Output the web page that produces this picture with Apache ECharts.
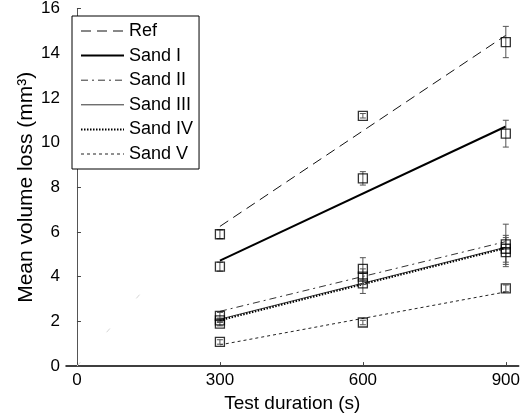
<!DOCTYPE html>
<html lang="en">
<head>
<meta charset="utf-8">
<title>Mean volume loss</title>
<script src="https://cdn.jsdelivr.net/npm/echarts@6/dist/echarts.min.js"></script>
<style>
  html, body { margin: 0; padding: 0; background: #fff; }
  #chart { width: 523px; height: 418px; }
</style>
</head>
<body>
<div id="chart"></div>
<script>
// test durations (s) and tick labels
var durations = [300, 600, 900];
var xTicks = [0, 300, 600, 900];
var seriesNames = ['Ref', 'Sand I', 'Sand II', 'Sand III', 'Sand IV', 'Sand V'];

// measured mean volume loss (mm3) at 300/600/900 s
var meanRef = [5.9, 11.2, 14.5];
var meanS1 = [4.45, 8.4, 10.4];
var meanS2 = [2.25, 4.35, 5.45];
var meanS3 = [2.05, 4.0, 5.25];
var meanS4 = [1.9, 3.7, 5.1];
var meanS5 = [1.08, 1.95, 3.48];

// error bar half heights
var errRef = [0.2, 0.1, 0.7];
var errS1 = [0.2, 0.3, 0.6];
var errS2 = [0.15, 0.5, 0.9];
var errS3 = [0.1, 0.35, 0.6];
var errS4 = [0.1, 0.45, 0.65];
var errS5 = [0.1, 0.1, 0.15];

// fitted lines, values at 300 s and 900 s
var fitX = [300, 900];
var fitRef = [6.25, 14.8];
var fitS1 = [4.72, 10.72];
var fitS2 = [2.45, 5.57];
var fitS3 = [2.1, 5.32];
var fitS4 = [2.05, 5.28];
var fitS5 = [0.95, 3.32];

// faint trace from the origin
var traceX = [0, 185];
var traceY = [0, 4.5];

var means = [meanRef, meanS1, meanS2, meanS3, meanS4, meanS5];
var errs = [errRef, errS1, errS2, errS3, errS4, errS5];
var fits = [fitRef, fitS1, fitS2, fitS3, fitS4, fitS5];

var lineStyles = [
  { color: '#111', width: 1, type: [10, 6] },
  { color: '#000', width: 2, type: 'solid' },
  { color: '#333', width: 1, type: [7, 4, 2, 4] },
  { color: '#333', width: 1, type: 'solid' },
  { color: '#000', width: 2, type: [1.5, 1.5] },
  { color: '#222', width: 1, type: [3, 3] }
];

var font = "'Liberation Sans', Arial, sans-serif";
var chart = echarts.init(document.getElementById('chart'), null, { renderer: 'canvas' });

function pairs(xs, ys) {
  return xs.map(function (x, i) { return [x, ys[i]]; });
}

var series = [];

series.push({
  name: 'trace', type: 'line', silent: true, symbol: 'none',
  data: pairs(traceX, traceY),
  lineStyle: { color: '#d4d4d4', width: 1, type: [5, 40] },
  z: 1
});

seriesNames.forEach(function (name, k) {
  series.push({
    name: name, type: 'line', symbol: 'none', silent: true,
    data: pairs(fitX, fits[k]),
    lineStyle: lineStyles[k],
    itemStyle: { color: lineStyles[k].color },
    z: 2
  });
});

seriesNames.forEach(function (name, k) {
  series.push({
    name: name + ' err', type: 'custom', silent: true,
    data: durations.map(function (d, i) { return [d, means[k][i], errs[k][i]]; }),
    renderItem: function (params, api) {
      var x = api.value(0), m = api.value(1), e = api.value(2);
      var top = api.coord([x, m + e]);
      var bot = api.coord([x, m - e]);
      var st = { stroke: '#555', lineWidth: 1 };
      return {
        type: 'group',
        children: [
          { type: 'line', shape: { x1: top[0], y1: top[1], x2: bot[0], y2: bot[1] }, style: st },
          { type: 'line', shape: { x1: top[0] - 3, y1: top[1], x2: top[0] + 3, y2: top[1] }, style: st },
          { type: 'line', shape: { x1: bot[0] - 3, y1: bot[1], x2: bot[0] + 3, y2: bot[1] }, style: st }
        ]
      };
    },
    z: 3
  });
  series.push({
    name: name + ' pts', type: 'scatter', silent: true,
    symbol: 'rect', symbolSize: 9,
    data: pairs(durations, means[k]),
    itemStyle: { color: 'rgba(0,0,0,0)', borderColor: '#000', borderWidth: 1.3 },
    z: 4
  });
});

var legendData = seriesNames.map(function (name, k) {
  return { name: name, lineStyle: { width: lineStyles[k].width, type: lineStyles[k].type, color: lineStyles[k].color } };
});

chart.setOption({
  animation: false,
  backgroundColor: '#fff',
  textStyle: { fontFamily: font },
  grid: { left: 66, right: 1, top: 8, bottom: 49, containLabel: false },
  legend: {
    data: legendData,
    orient: 'vertical',
    left: 72, top: 16,
    padding: [6, 6, 6, 8],
    itemGap: 6.6,
    itemWidth: 43, itemHeight: 14,
    borderColor: '#000', borderWidth: 1,
    backgroundColor: '#fff',
    selectedMode: false,
    itemStyle: { color: 'rgba(0,0,0,0)', borderWidth: 0, opacity: 0 },
    textStyle: { fontSize: 18, color: '#000', fontFamily: font }
  },
  xAxis: {
    type: 'value', min: -23, max: 927,
    name: 'Test duration (s)', nameLocation: 'middle', nameGap: 25,
    nameTextStyle: { fontSize: 19, color: '#000', fontFamily: font },
    axisLine: { show: true, lineStyle: { color: '#000', width: 1.5 } },
    axisTick: { show: true, inside: true, length: 4, customValues: xTicks, lineStyle: { color: '#444' } },
    axisLabel: { customValues: xTicks, fontSize: 17, color: '#000', margin: 6, fontFamily: font },
    splitLine: { show: false }
  },
  yAxis: {
    type: 'value', min: 0, max: 16, interval: 2,
    name: 'Mean volume loss (mm³)', nameLocation: 'middle', nameGap: 29,
    nameMoveOverlap: false,
    nameTextStyle: { fontSize: 21, color: '#000', fontFamily: font },
    axisLine: { show: true, lineStyle: { color: '#555', width: 1 } },
    axisTick: { show: true, inside: true, length: 4, lineStyle: { color: '#444' } },
    axisLabel: { fontSize: 17, color: '#000', margin: 6, fontFamily: font },
    splitLine: { show: false }
  },
  series: series
});
</script>
</body>
</html>
